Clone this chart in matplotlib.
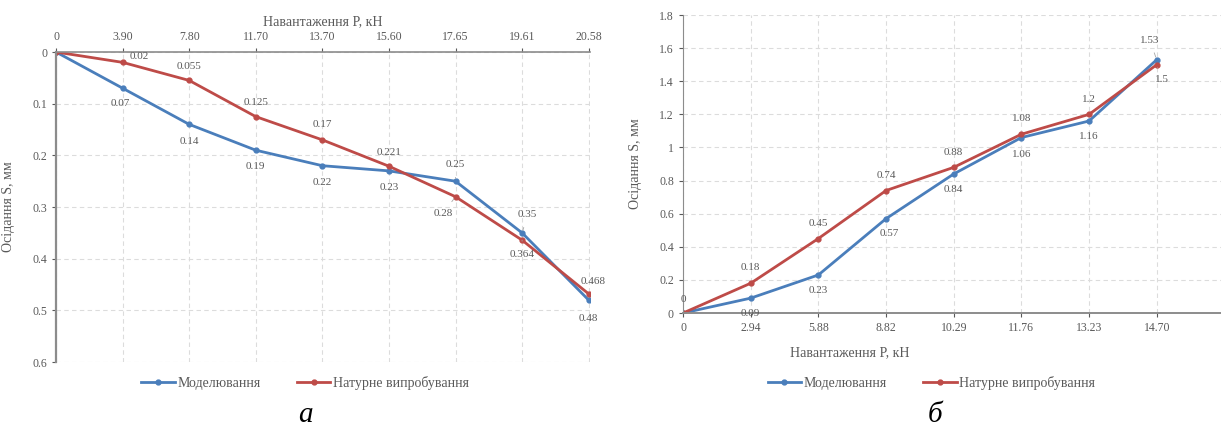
import numpy as np
import matplotlib.pyplot as plt

plt.rcParams['font.family'] = ['Liberation Serif', 'DejaVu Serif']

# chart a
loads_a = ['0', '3.90', '7.80', '11.70', '13.70', '15.60', '17.65', '19.61', '20.58']
model_a = [0, 0.07, 0.14, 0.19, 0.22, 0.23, 0.25, 0.35, 0.48]
field_a = [0, 0.02, 0.055, 0.125, 0.17, 0.221, 0.28, 0.364, 0.468]

# chart b
loads_b = ['0', '2.94', '5.88', '8.82', '10.29', '11.76', '13.23', '14.70']
model_b = [0, 0.09, 0.23, 0.57, 0.84, 1.06, 1.16, 1.53]
field_b = [0, 0.18, 0.45, 0.74, 0.88, 1.08, 1.2, 1.5]

blue = '#4a7ebb'
red = '#be4b48'
tcol = '#595959'
xlabel = 'Навантаження P, кН'
ylabel = 'Осідання S, мм'
names = ['Моделювання', 'Натурне випробування']

fig = plt.figure(figsize=(12.21, 4.3), dpi=100)
ax1 = fig.add_axes([0.0459, 0.158, 0.4373, 0.721])
ax2 = fig.add_axes([0.5594, 0.272, 0.4406, 0.693])


def style(ax):
    ax.grid(True, ls=(0, (4, 3)), color='#dcdcdc', lw=0.8)
    ax.set_axisbelow(True)
    for s in ax.spines.values():
        s.set_visible(False)
    ax.tick_params(labelsize=8.5, colors=tcol, length=3, width=0.8)
    for lab in ax.get_xticklabels() + ax.get_yticklabels():
        lab.set_color(tcol)


def labels(ax, x, y, offs, color=tcol, leaders=()):
    for i, (xi, yi) in enumerate(zip(x, y)):
        if offs[i] is None:
            continue
        dx, dy = offs[i]
        kw = {}
        if i in leaders:
            kw['arrowprops'] = dict(arrowstyle='-', color='#a6a6a6', lw=0.6,
                                    shrinkA=4, shrinkB=2)
        ax.annotate(str(yi), (xi, yi), xytext=(dx, dy), textcoords='offset points',
                    ha='center', va='center', fontsize=8, color=color, **kw)


# ---- chart a ----
xa = np.arange(len(loads_a))
l1, = ax1.plot(xa, model_a, color=blue, lw=2, marker='o', ms=3.5)
l2, = ax1.plot(xa, field_a, color=red, lw=2, marker='o', ms=3.5)
ax1.set_xlim(0, 8.02)
ax1.set_ylim(0.6, 0)
ax1.set_yticks(np.arange(0, 0.61, 0.1))
ax1.set_yticklabels(['0', '0.1', '0.2', '0.3', '0.4', '0.5', '0.6'])
ax1.xaxis.tick_top()
ax1.xaxis.set_label_position('top')
ax1.set_xticks(xa)
ax1.set_xticklabels(loads_a)
style(ax1)
ax1.spines['left'].set_visible(True)
ax1.spines['top'].set_visible(True)
ax1.spines['left'].set_color('#8c8c8c')
ax1.spines['left'].set_linewidth(1.6)
ax1.spines['top'].set_color('#8c8c8c')
ax1.spines['top'].set_linewidth(1.2)
ax1.set_xlabel(xlabel, fontsize=10, color=tcol, labelpad=4)
ax1.set_ylabel(ylabel, fontsize=10, color=tcol, labelpad=12)
labels(ax1, xa, model_a,
       [None, (-2, -11), (0, -12), (0, -12), (0, -12), (0, -12), (0, 12), (4, 13), (0, -13)],
       leaders=(6, 7))
labels(ax1, xa, field_a,
       [None, (12, 4), (0, 10), (0, 10), (0, 11), (0, 10), (-9, -12), (0, -10), (3, 9)],
       leaders=(6, 7))
fig.legend([l1, l2], names, loc='center', bbox_to_anchor=(0.250, 0.109), ncol=2,
           frameon=False, fontsize=10, handlelength=2.4, columnspacing=2.6,
           labelcolor=tcol, handletextpad=0.2)
fig.text(0.250, 0.035, 'а', fontsize=21, style='italic', ha='center', va='center')

# ---- chart b ----
xb = np.arange(len(loads_b))
m1, = ax2.plot(xb, model_b, color=blue, lw=2, marker='o', ms=3.5)
m2, = ax2.plot(xb, field_b, color=red, lw=2, marker='o', ms=3.5)
ax2.set_xlim(0, 7.95)
ax2.set_ylim(0, 1.8)
ax2.set_yticks(np.arange(0, 1.81, 0.2))
ax2.set_yticklabels(['0', '0.2', '0.4', '0.6', '0.8', '1', '1.2', '1.4', '1.6', '1.8'])
ax2.set_xticks(xb)
ax2.set_xticklabels(loads_b)
style(ax2)
ax2.spines['left'].set_visible(True)
ax2.spines['bottom'].set_visible(True)
ax2.spines['left'].set_color('#8c8c8c')
ax2.spines['bottom'].set_color('#8c8c8c')
ax2.spines['bottom'].set_linewidth(1.4)
ax2.set_xlabel(xlabel, fontsize=10, color=tcol, labelpad=4)
ax2.xaxis.set_label_coords(0.31, -0.11)
ax2.set_ylabel(ylabel, fontsize=10, color=tcol, labelpad=12)
labels(ax2, xb, model_b,
       [None, (0, -11), (0, -11), (2, -11), (0, -11), (0, -12), (0, -11), (-5, 14)],
       leaders=(7,))
labels(ax2, xb, field_b,
       [(0, 10), (0, 11), (0, 11), (0, 11), (0, 11), (0, 11), (0, 11), (4, -11)],
       leaders=(7,))
fig.legend([m1, m2], names, loc='center', bbox_to_anchor=(0.763, 0.109), ncol=2,
           frameon=False, fontsize=10, handlelength=2.4, columnspacing=2.6,
           labelcolor=tcol, handletextpad=0.2)
fig.text(0.766, 0.035, 'б', fontsize=21, style='italic', ha='center', va='center')

fig.savefig('out.png', dpi=100)
